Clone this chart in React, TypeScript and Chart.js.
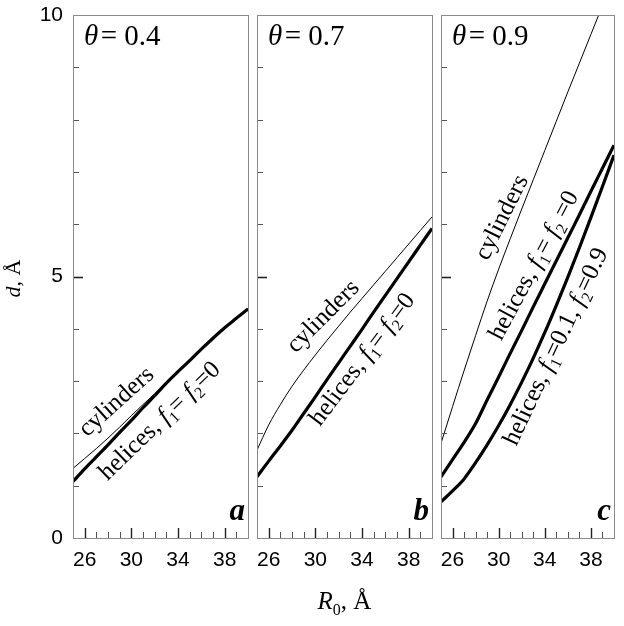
import React, { useEffect, useRef } from 'react';
import { Chart, registerables } from 'chart.js';

Chart.register(...registerables);

// ---- data ----
const R0 = [25, 26, 27, 28, 29, 30, 31, 32, 33, 34, 35, 36, 37, 38, 39, 40];

const cylA = [1.33, 1.52, 1.71, 1.91, 2.12, 2.34, 2.55, 2.76, 2.97, 3.19, 3.40, 3.62, 3.83, 4.03, 4.21, 4.39];
const helA = [1.08, 1.32, 1.55, 1.78, 2.02, 2.25, 2.49, 2.72, 2.96, 3.18, 3.39, 3.61, 3.82, 4.02, 4.20, 4.38];

const cylB = [1.68, 2.16, 2.55, 2.90, 3.21, 3.50, 3.78, 4.05, 4.32, 4.58, 4.84, 5.10, 5.36, 5.62, 5.88, 6.14];
const helB = [1.17, 1.47, 1.76, 2.06, 2.38, 2.70, 3.03, 3.35, 3.67, 3.99, 4.32, 4.64, 4.96, 5.28, 5.60, 5.92];

const cylC = [1.81, 2.51, 3.20, 3.87, 4.53, 5.14, 5.72, 6.29, 6.85, 7.41, 7.97, 8.53, 9.08, 9.63, 10.18, 10.73];
const helC0 = [1.17, 1.50, 1.83, 2.19, 2.64, 3.08, 3.53, 3.97, 4.42, 4.86, 5.30, 5.74, 6.18, 6.63, 7.07, 7.51];
const helC1 = [0.69, 0.90, 1.13, 1.44, 1.78, 2.15, 2.55, 2.98, 3.44, 3.93, 4.45, 4.99, 5.55, 6.13, 6.72, 7.32];

const X_TICKS = [26, 30, 34, 38];
const Y_TICKS = [0, 5, 10];
const X_MIN = 25, X_MAX = 40, Y_MIN = 0, Y_MAX = 10;
const THETAS = ['0.4', '0.7', '0.9'];
const LETTERS = ['a', 'b', 'c'];

type Seg = { t: string; it?: boolean; sub?: boolean; bold?: boolean };
type Label = { segs: Seg[]; x: number; y: number; angle: number };

const SERIF = '"Liberation Serif", "Times New Roman", serif';
const SANS = '"Liberation Sans", Arial, sans-serif';

const helicesZero: Seg[] = [
  { t: 'helices, ' }, { t: 'f', it: true }, { t: '1', sub: true }, { t: '= ' },
  { t: 'f', it: true }, { t: '2', sub: true }, { t: '=0' },
];
const helicesZeroC: Seg[] = [
  { t: 'helices, ' }, { t: 'f', it: true }, { t: '1', sub: true }, { t: '= ' },
  { t: 'f', it: true }, { t: '2', sub: true }, { t: ' =0' },
];
const helicesMix: Seg[] = [
  { t: 'helices, ' }, { t: 'f', it: true }, { t: '1', sub: true }, { t: '=0.1, ' },
  { t: 'f', it: true }, { t: '2', sub: true }, { t: '=0.9' },
];
const cylSeg: Seg[] = [{ t: 'cylinders' }];

const PANELS = [
  {
    left: 73, right: 248, showY: true,
    series: [{ v: cylA, w: 1 }, { v: helA, w: 3.2 }],
    labels: [
      { segs: cylSeg, x: 28.79, y: 2.59, angle: -42 },
      { segs: helicesZero, x: 32.5, y: 2.22, angle: -44 },
    ] as Label[],
  },
  {
    left: 257, right: 432, showY: false,
    series: [{ v: cylB, w: 1 }, { v: helB, w: 3.2 }],
    labels: [
      { segs: cylSeg, x: 30.74, y: 4.22, angle: -45 },
      { segs: helicesZero, x: 34.11, y: 3.40, angle: -53 },
    ] as Label[],
  },
  {
    left: 441, right: 614, showY: false,
    series: [{ v: cylC, w: 1 }, { v: helC0, w: 3.2 }, { v: helC1, w: 3.2 }],
    labels: [
      { segs: cylSeg, x: 30.38, y: 6.12, angle: -63.5 },
      { segs: helicesZeroC, x: 33.15, y: 5.2, angle: -62 },
      { segs: helicesMix, x: 35.05, y: 3.65, angle: -64.7 },
    ] as Label[],
  },
];

function drawRich(
  ctx: CanvasRenderingContext2D, segs: Seg[], size: number, family: string,
  x: number, y: number, angle: number, align: 'center' | 'left' | 'right', baseOff: number,
) {
  const fontOf = (s: Seg) =>
    `${s.it ? 'italic ' : ''}${s.bold ? 'bold ' : ''}${s.sub ? Math.round(size * 0.65) : size}px ${family}`;
  const widths = segs.map((s) => { ctx.font = fontOf(s); return ctx.measureText(s.t).width; });
  const total = widths.reduce((a, b) => a + b, 0);
  ctx.save();
  ctx.translate(x, y);
  ctx.rotate((angle * Math.PI) / 180);
  ctx.textBaseline = 'alphabetic';
  ctx.textAlign = 'left';
  ctx.fillStyle = '#000';
  let cx = align === 'center' ? -total / 2 : align === 'right' ? -total : 0;
  segs.forEach((s, i) => {
    ctx.font = fontOf(s);
    ctx.fillText(s.t, cx, baseOff + (s.sub ? size * 0.22 : 0));
    cx += widths[i];
  });
  ctx.restore();
}

const panelDeco = {
  id: 'panelDeco',
  afterDraw(chart: any, _args: any, opts: any) {
    const { ctx, chartArea } = chart;
    const { left, right, top, bottom } = chartArea;
    const xs = chart.scales.x;
    const ys = chart.scales.y;
    ctx.save();
    // tick marks inside the frame
    ctx.lineCap = 'butt';
    for (let v = X_MIN + 1; v < X_MAX; v++) {
      const major = X_TICKS.includes(v);
      const px = Math.round(xs.getPixelForValue(v)) + 0.5;
      ctx.beginPath();
      ctx.strokeStyle = major ? '#222' : '#555';
      ctx.lineWidth = major ? 1.4 : 1;
      ctx.moveTo(px, bottom);
      ctx.lineTo(px, bottom - (major ? 10 : 6));
      ctx.stroke();
    }
    for (let v = Y_MIN + 1; v < Y_MAX; v++) {
      const major = v % 5 === 0;
      const py = Math.round(ys.getPixelForValue(v)) + 0.5;
      ctx.beginPath();
      ctx.strokeStyle = major ? '#222' : '#555';
      ctx.lineWidth = major ? 1.6 : 1;
      ctx.moveTo(left, py);
      ctx.lineTo(left + (major ? 10 : 6), py);
      ctx.stroke();
    }
    // frame
    ctx.strokeStyle = '#8a8a8a';
    ctx.lineWidth = 1;
    ctx.strokeRect(left + 0.5, top + 0.5, right - left, bottom - top);

    // theta label
    drawRich(ctx, [{ t: 'θ', it: true }, { t: '\u200A= ' + opts.theta }], 29, SERIF, left + 11, top + 30, 0, 'left', 0);
    // panel letter
    drawRich(ctx, [{ t: opts.letter, it: true, bold: true }], 31, SERIF, right - 3, bottom - 18, 0, 'right', 0);
    // curve annotations
    (opts.labels as Label[]).forEach((l) => {
      drawRich(ctx, l.segs, 25, SERIF, xs.getPixelForValue(l.x), ys.getPixelForValue(l.y), l.angle, 'center', 25 * 0.23);
    });
    // axis titles
    if (opts.yTitle) {
      drawRich(ctx, [{ t: 'd', it: true }, { t: ', Å' }], 22, SERIF, 13, (top + bottom) / 2 + 2, -90, 'center', 22 * 0.33);
    }
    if (opts.xTitle) {
      drawRich(ctx, [{ t: 'R', it: true }, { t: '0', sub: true }, { t: ', Å' }], 25, SERIF, (left + right) / 2, 609, 0, 'center', 0);
    }
    ctx.restore();
  },
};

const TOP = 15;
const BOTTOM = 538;

function makeConfig(idx: number): any {
  const p = PANELS[idx];
  return {
    type: 'line',
    data: {
      datasets: p.series.map((s) => ({
        data: R0.map((r, i) => ({ x: r, y: s.v[i] })),
        borderColor: '#000',
        borderWidth: s.w,
        pointRadius: 0,
        fill: false,
        cubicInterpolationMode: 'monotone',
      })),
    },
    options: {
      responsive: false,
      animation: false,
      events: [],
      layout: { padding: { left: 0, right: 624 - p.right, top: TOP, bottom: 0 } },
      plugins: {
        legend: { display: false },
        tooltip: { enabled: false },
        panelDeco: {
          theta: THETAS[idx], letter: LETTERS[idx], labels: p.labels,
          yTitle: idx === 0, xTitle: idx === 1,
        },
      },
      scales: {
        x: {
          type: 'linear', min: X_MIN, max: X_MAX, position: 'bottom',
          grid: { display: false, drawTicks: false }, border: { display: false },
          ticks: { color: '#000', font: { size: 21, family: SANS }, padding: 10, maxRotation: 0, autoSkip: false },
          afterBuildTicks: (s: any) => { s.ticks = X_TICKS.map((v) => ({ value: v })); },
          afterFit: (s: any) => { s.height = 626 - BOTTOM; s.paddingLeft = 0; s.paddingRight = 0; },
        },
        y: {
          type: 'linear', min: Y_MIN, max: Y_MAX, position: 'left',
          grid: { display: false, drawTicks: false }, border: { display: false },
          ticks: { display: p.showY, color: '#000', font: { size: 21, family: SANS }, padding: 10, autoSkip: false },
          afterBuildTicks: (s: any) => { s.ticks = Y_TICKS.map((v) => ({ value: v })); },
          afterFit: (s: any) => { s.width = p.left; s.paddingTop = 0; s.paddingBottom = 0; },
        },
      },
    },
    plugins: [panelDeco],
  };
}

export default function App() {
  const r0 = useRef<HTMLCanvasElement>(null);
  const r1 = useRef<HTMLCanvasElement>(null);
  const r2 = useRef<HTMLCanvasElement>(null);
  useEffect(() => {
    const charts = [r0, r1, r2].map((r, i) => new Chart(r.current as HTMLCanvasElement, makeConfig(i)));
    return () => charts.forEach((c) => c.destroy());
  }, []);
  const style: React.CSSProperties = { position: 'absolute', left: 0, top: 0, display: 'block' };
  return (
    <div style={{ position: 'absolute', left: 0, top: 0, width: 624, height: 626, background: '#fff' }}>
      <canvas ref={r0} width={624} height={626} style={style} />
      <canvas ref={r1} width={624} height={626} style={style} />
      <canvas ref={r2} width={624} height={626} style={style} />
    </div>
  );
}
